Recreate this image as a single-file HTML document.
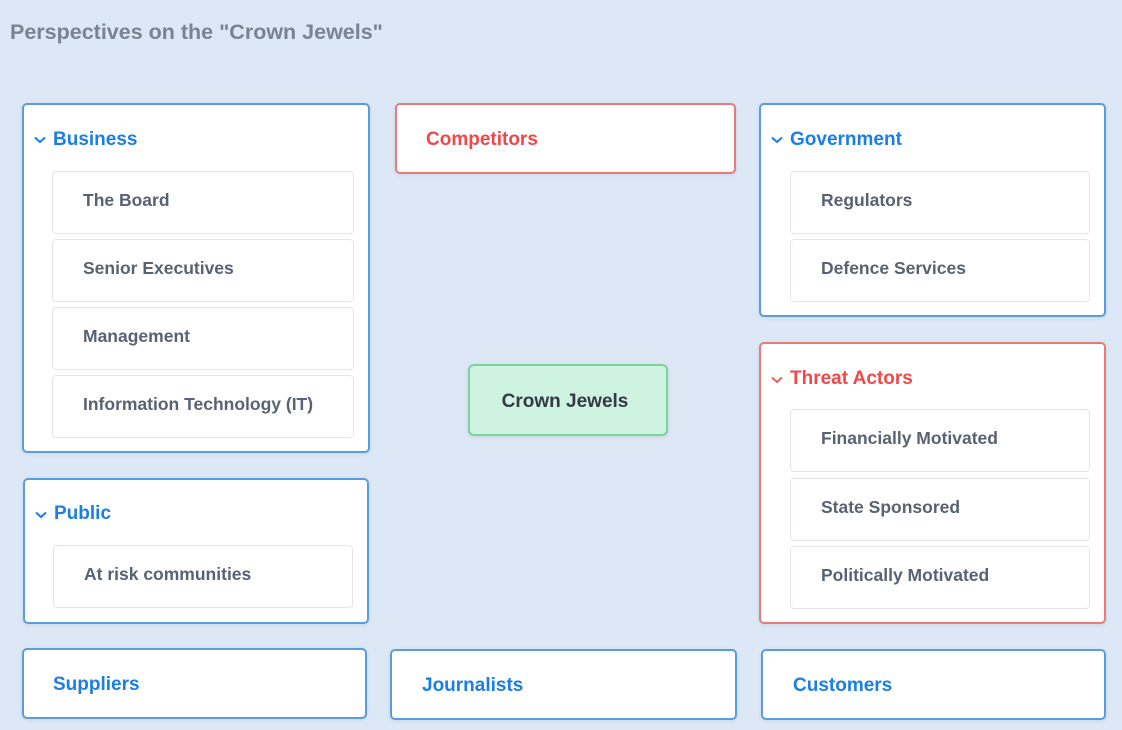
<!DOCTYPE html>
<html><head><style>
body{margin:0;width:1122px;height:730px;background:#dce8f6;font-family:"Liberation Sans",sans-serif;position:relative;overflow:hidden}
.t{position:absolute;left:10px;top:20px;font-size:21.5px;color:#7b8290;font-weight:bold}
.b{position:absolute;background:#fff;border:2px solid #5b9be0;border-radius:5px;box-sizing:border-box;box-shadow:0 1px 4px rgba(0,0,0,.08)}
.r{border-color:#e87a7a}
.h{position:absolute;font-size:19px;color:#1a7ee6;white-space:nowrap;font-weight:bold}
.r .h{color:#f04848}
.cv{position:absolute;width:12px;height:8px}
.i{position:absolute;background:#fff;border:1px solid #e2e6ec;border-radius:4px;box-sizing:border-box;font-size:17.5px;color:#586272;padding-left:30px;padding-bottom:4px;display:flex;align-items:center;font-weight:bold}
.cj{position:absolute;left:468px;top:364px;width:200px;height:72px;background:#cff3e1;border:2px solid #7dd49a;border-radius:6px;box-sizing:border-box;font-size:19px;color:#333a44;display:flex;align-items:center;justify-content:center;box-shadow:0 1px 4px rgba(0,0,0,.1);font-weight:bold;padding-top:3px;padding-right:6px}
</style></head><body>
<div class="t">Perspectives on the "Crown Jewels"</div>

<div class="b" style="left:22px;top:103px;width:348px;height:350px">
<svg class="cv" style="left:10px;top:31px" viewBox="0 0 12 8"><path d="M1 1.5 6 6 11 1.5" fill="none" stroke="#1a7ee6" stroke-width="2"/></svg>
<div class="h" style="left:29px;top:24px">Business</div>
<div class="i" style="left:28px;top:66px;width:302px;height:63px">The Board</div>
<div class="i" style="left:28px;top:134px;width:302px;height:63px">Senior Executives</div>
<div class="i" style="left:28px;top:202px;width:302px;height:63px">Management</div>
<div class="i" style="left:28px;top:270px;width:302px;height:63px">Information Technology (IT)</div>
</div>

<div class="b" style="left:23px;top:478px;width:346px;height:146px">
<svg class="cv" style="left:10px;top:31px" viewBox="0 0 12 8"><path d="M1 1.5 6 6 11 1.5" fill="none" stroke="#1a7ee6" stroke-width="2"/></svg>
<div class="h" style="left:29px;top:23px">Public</div>
<div class="i" style="left:28px;top:65px;width:300px;height:63px">At risk communities</div>
</div>

<div class="b r" style="left:395px;top:103px;width:341px;height:71px"><div class="h" style="left:29px;top:24px">Competitors</div></div>

<div class="b" style="left:759px;top:103px;width:347px;height:214px">
<svg class="cv" style="left:10px;top:31px" viewBox="0 0 12 8"><path d="M1 1.5 6 6 11 1.5" fill="none" stroke="#1a7ee6" stroke-width="2"/></svg>
<div class="h" style="left:29px;top:24px">Government</div>
<div class="i" style="left:29px;top:66px;width:300px;height:63px">Regulators</div>
<div class="i" style="left:29px;top:134px;width:300px;height:63px">Defence Services</div>
</div>

<div class="b r" style="left:759px;top:342px;width:347px;height:282px">
<svg class="cv" style="left:10px;top:32px" viewBox="0 0 12 8"><path d="M1 1.5 6 6 11 1.5" fill="none" stroke="#f06060" stroke-width="2"/></svg>
<div class="h" style="left:29px;top:24px">Threat Actors</div>
<div class="i" style="left:29px;top:65px;width:300px;height:63px">Financially Motivated</div>
<div class="i" style="left:29px;top:134px;width:300px;height:63px">State Sponsored</div>
<div class="i" style="left:29px;top:202px;width:300px;height:63px">Politically Motivated</div>
</div>

<div class="cj">Crown Jewels</div>

<div class="b" style="left:22px;top:648px;width:345px;height:71px"><div class="h" style="left:29px;top:24px">Suppliers</div></div>
<div class="b" style="left:390px;top:649px;width:347px;height:71px"><div class="h" style="left:30px;top:24px">Journalists</div></div>
<div class="b" style="left:761px;top:649px;width:345px;height:71px"><div class="h" style="left:30px;top:24px">Customers</div></div>
</body></html>
